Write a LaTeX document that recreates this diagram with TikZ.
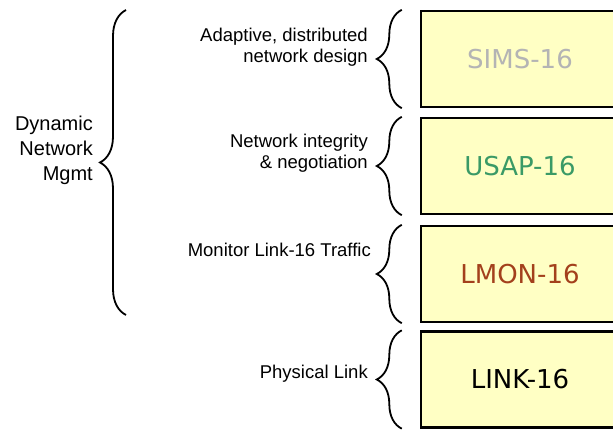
\documentclass[tikz,border=0pt]{standalone}
\usepackage{fontspec}
\setmainfont{Liberation Sans}
\newfontfamily\boxfont{DejaVu Sans}
\usetikzlibrary{decorations.pathreplacing}

\definecolor{layerfill}{HTML}{FFFFC4}
\definecolor{simsgrey}{HTML}{B4B4B4}
\definecolor{usapgreen}{HTML}{3A9A66}
\definecolor{lmonbrown}{HTML}{A3401C}

\tikzset{
  layer/.style={draw=black, line width=2.4pt, fill=layerfill,
    minimum width=198pt, minimum height=96pt, inner sep=0pt,
    font=\boxfont\fontsize{26}{30}\selectfont},
  rolebrace/.style={decorate, decoration={brace, amplitude=25pt},
    line width=1.8pt},
  bigbrace/.style={decorate, decoration={brace, amplitude=26pt},
    line width=1.8pt},
  rolelabel/.style={inner sep=0pt, align=right,
    font=\fontsize{18.5}{21}\selectfont},
  grouplabel/.style={inner sep=0pt, align=right, anchor=east,
    font=\fontsize{20}{25}\selectfont}
}

\begin{document}
\begin{tikzpicture}[x=1pt, y=-1pt]
  \useasboundingbox (0,0) rectangle (613,430);
  \clip (0,0) rectangle (613,430);

  % protocol layers
  \node[layer, text=simsgrey]  (sims) at (520,59)    {SIMS-16};
  \node[layer, text=usapgreen] (usap) at (520,166)   {USAP-16};
  \node[layer, text=lmonbrown] (lmon) at (520,274)   {LMON-16};
  \node[layer, text=black]     (link) at (520,379.5) {LINK-16};

  % braces in front of each layer
  \foreach \n in {sims,usap,lmon,link}{
    \draw[rolebrace] ([xshift=-18pt]\n.south west) -- ([xshift=-18pt]\n.north west);
  }

  % role descriptions
  \node[rolelabel, anchor=east] (r1) at (368,47)
    {Adaptive, distributed\\network design};
  \node[rolelabel, anchor=east] (r2) at (368,153)
    {Network integrity\\\& negotiation};
  \node[rolelabel, anchor=base east] (r3) at (371,256.7)
    {Monitor Link-16 Traffic};
  \node[rolelabel, anchor=base east] (r4) at (368,378)
    {Physical Link};

  % overall grouping brace
  \coordinate (gtop) at (126,10);
  \coordinate (gbot) at (126,315);
  \draw[bigbrace] (gbot) -- (gtop);
  \node[grouplabel] (dnm) at (93,150.7) {Dynamic\\Network\\Mgmt};
\end{tikzpicture}
\end{document}
